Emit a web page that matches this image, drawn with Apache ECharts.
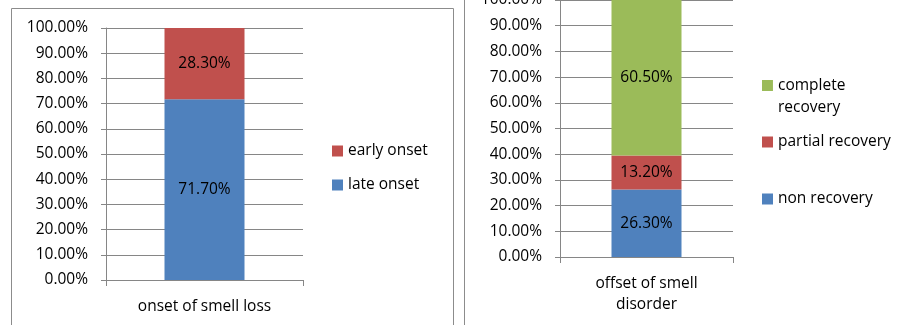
<!DOCTYPE html>
<html>
<head>
<meta charset="utf-8">
<script src="https://cdn.jsdelivr.net/npm/echarts@6/dist/echarts.min.js"></script>
<style>
  html, body { margin: 0; padding: 0; background: #fff; }
  #chart { width: 909px; height: 325px; }
</style>
</head>
<body>
<div id="chart"></div>
<script>
// Two stacked 100% columns: onset of smell loss, and offset of smell disorder
const onsetCategories = ['onset of smell loss'];
const lateOnset = [71.7];
const earlyOnset = [28.3];

const offsetCategories = ['offset of smell\ndisorder'];
const nonRecovery = [26.3];
const partialRecovery = [13.2];
const completeRecovery = [60.5];

const yTicks = [0, 10, 20, 30, 40, 50, 60, 70, 80, 90, 100];

const BLUE = '#4F81BD', RED = '#C0504D', GREEN = '#9BBB59';
const GRID_GRAY = '#868686';
const FONT = 'Open Sans';
const FS = 15.5;

const fmtPct = v => v.toFixed(2) + '%';

// square marker sitting on the first line of a two-line legend label
const TOP_SQUARE_ICON = 'path://M0,0h10v10h-10z M0,31h0.05v0.05h-0.05z';

function valueAxis(gridIndex) {
  return {
    type: 'value', gridIndex, min: yTicks[0], max: yTicks[yTicks.length - 1], interval: 10,
    axisLine: { show: true, lineStyle: { color: GRID_GRAY, width: 1 } },
    axisTick: { show: true, length: 5, lineStyle: { color: GRID_GRAY } },
    splitLine: { show: true, lineStyle: { color: GRID_GRAY, width: 1 } },
    axisLabel: { formatter: v => fmtPct(v), color: '#000', fontFamily: FONT, fontSize: FS, margin: 18 }
  };
}

function categoryAxis(gridIndex, data) {
  return {
    type: 'category', gridIndex, data,
    axisLine: { show: true, lineStyle: { color: GRID_GRAY, width: 1 } },
    axisTick: { show: true, length: 6, alignWithLabel: false, lineStyle: { color: GRID_GRAY } },
    axisLabel: { color: '#000', fontFamily: FONT, fontSize: FS, margin: 16, lineHeight: 21 }
  };
}

function barSeries(name, data, color, xi, stack, width) {
  return {
    name, type: 'bar', data, stack, xAxisIndex: xi, yAxisIndex: xi,
    barWidth: width,
    itemStyle: { color },
    label: { show: true, position: 'inside', formatter: p => fmtPct(p.value), color: '#000', fontFamily: FONT, fontSize: FS },
    emphasis: { disabled: true }
  };
}

function legendItem(name, left, top, extra) {
  return Object.assign({
    data: [name], left, top, orient: 'vertical', padding: 0,
    itemWidth: 11, itemHeight: 11, itemGap: 5, icon: 'rect', selectedMode: false,
    textStyle: { color: '#000', fontFamily: FONT, fontSize: FS, lineHeight: 22 }
  }, extra || {});
}

const option = {
  animation: false,
  graphic: [
    { type: 'rect', shape: { x: 11.5, y: 8.5, width: 442, height: 340 }, style: { fill: 'none', stroke: '#8c8c8c', lineWidth: 1 } },
    { type: 'rect', shape: { x: 464.5, y: -20, width: 480, height: 360 }, style: { fill: 'none', stroke: '#8c8c8c', lineWidth: 1 } }
  ],
  grid: [
    { left: 106, right: 606, top: 28, bottom: 45, outerBoundsMode: 'none', containLabel: false },
    { left: 560, right: 176, top: 0, bottom: 68, outerBoundsMode: 'none', containLabel: false }
  ],
  xAxis: [categoryAxis(0, onsetCategories), categoryAxis(1, offsetCategories)],
  yAxis: [valueAxis(0), valueAxis(1)],
  legend: [
    legendItem('early onset', 332, 140),
    legendItem('late onset', 332, 174),
    legendItem('complete recovery', 762, 75, {
      formatter: () => 'complete\nrecovery',
      icon: TOP_SQUARE_ICON, itemHeight: 34
    }),
    legendItem('partial recovery', 762, 131),
    legendItem('non recovery', 762, 188)
  ],
  series: [
    barSeries('late onset', lateOnset, BLUE, 0, 'a', 80),
    barSeries('early onset', earlyOnset, RED, 0, 'a', 80),
    barSeries('non recovery', nonRecovery, BLUE, 1, 'b', 70),
    barSeries('partial recovery', partialRecovery, RED, 1, 'b', 70),
    barSeries('complete recovery', completeRecovery, GREEN, 1, 'b', 70)
  ]
};

const chart = echarts.init(document.getElementById('chart'), null, { renderer: 'canvas' });
chart.setOption(option);
</script>
</body>
</html>
